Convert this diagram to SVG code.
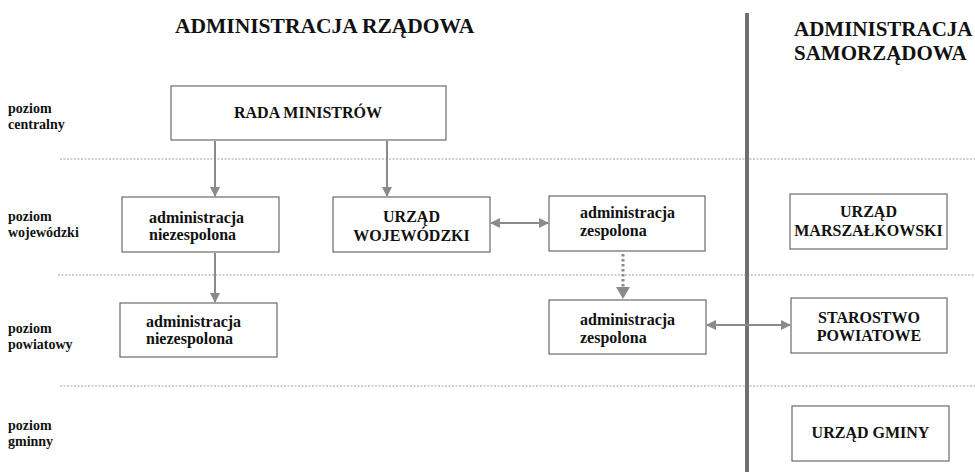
<svg xmlns="http://www.w3.org/2000/svg" width="975" height="472" viewBox="0 0 975 472">
<defs>
<marker id="ah" markerWidth="10" markerHeight="10" refX="9" refY="5" orient="auto-start-reverse" markerUnits="userSpaceOnUse">
<path d="M0,0 L10,5 L0,10 Z" fill="#8a8a8a"/>
</marker>
</defs>
<style>
text{font-family:"Liberation Serif","Times New Roman",serif;font-weight:bold;fill:#111}
.title{font-size:21.5px}
.title2{font-size:21px}
.lvl{font-size:14px}
.n{font-size:16px}
.c{text-anchor:middle}
.box{fill:#fff;stroke:#6a6a6a;stroke-width:1.2}
.dash{stroke:#a0a0a0;stroke-width:1;stroke-dasharray:2,1.5;fill:none}
.arr{stroke:#8a8a8a;stroke-width:2;fill:none}
</style>
<rect width="975" height="472" fill="#fff"/>
<g id="headers">
<text class="title" x="175" y="33">ADMINISTRACJA RZĄDOWA</text>
<text class="title2" x="794" y="36">ADMINISTRACJA</text>
<text class="title2" x="794" y="60">SAMORZĄDOWA</text>
</g>
<g id="levels">
<text class="lvl" x="8" y="113">poziom</text>
<text class="lvl" x="8" y="129">centralny</text>
<text class="lvl" x="8" y="221">poziom</text>
<text class="lvl" x="8" y="237">wojewódzki</text>
<text class="lvl" x="8" y="333">poziom</text>
<text class="lvl" x="8" y="349">powiatowy</text>
<text class="lvl" x="8" y="430">poziom</text>
<text class="lvl" x="8" y="446">gminny</text>
</g>
<g id="separators">
<line class="dash" x1="60" y1="159" x2="975" y2="159"/>
<line class="dash" x1="58" y1="275" x2="975" y2="275"/>
<line class="dash" x1="60" y1="386" x2="975" y2="386"/>
<line x1="747" y1="13" x2="747" y2="472" stroke="#707070" stroke-width="4"/>
</g>
<g id="connectors">
<line class="arr" x1="215" y1="141" x2="215" y2="196" marker-end="url(#ah)"/>
<line class="arr" x1="387" y1="141" x2="387" y2="196" marker-end="url(#ah)"/>
<line class="arr" x1="215" y1="253" x2="215" y2="302" marker-end="url(#ah)"/>
<line class="arr" x1="491" y1="223" x2="548" y2="223" marker-start="url(#ah)" marker-end="url(#ah)"/>
<line class="arr" x1="707" y1="325" x2="790" y2="325" marker-start="url(#ah)" marker-end="url(#ah)"/>
<line x1="623" y1="254" x2="623" y2="287" stroke="#8a8a8a" stroke-width="3" stroke-dasharray="2.5,2.5"/>
<path d="M616,287 L630,287 L623,299 Z" fill="#8a8a8a"/>
</g>
<g id="rada-ministrow">
<rect class="box" x="171" y="86" width="275" height="54"/>
<text class="n c" x="308" y="118">RADA MINISTRÓW</text>
</g>
<g id="adm-niezespolona-woj">
<rect class="box" x="122" y="197" width="157" height="55"/>
<text class="n" x="149" y="223">administracja</text>
<text class="n" x="149" y="240">niezespolona</text>
</g>
<g id="urzad-wojewodzki">
<rect class="box" x="333" y="197" width="157" height="55"/>
<text class="n c" x="411.5" y="222">URZĄD</text>
<text class="n c" x="411.5" y="241">WOJEWÓDZKI</text>
</g>
<g id="adm-zespolona-woj">
<rect class="box" x="549" y="196" width="156" height="55"/>
<text class="n" x="580" y="218">administracja</text>
<text class="n" x="580" y="236">zespolona</text>
</g>
<g id="urzad-marszalkowski">
<rect class="box" x="790" y="194" width="157" height="55"/>
<text class="n c" x="868.5" y="217">URZĄD</text>
<text class="n c" x="868.5" y="236">MARSZAŁKOWSKI</text>
</g>
<g id="adm-niezespolona-pow">
<rect class="box" x="120" y="303" width="157" height="54"/>
<text class="n" x="146" y="327">administracja</text>
<text class="n" x="146" y="344">niezespolona</text>
</g>
<g id="adm-zespolona-pow">
<rect class="box" x="549" y="300" width="157" height="54"/>
<text class="n" x="580" y="325">administracja</text>
<text class="n" x="580" y="343">zespolona</text>
</g>
<g id="starostwo-powiatowe">
<rect class="box" x="791" y="298" width="156" height="55"/>
<text class="n c" x="869" y="323">STAROSTWO</text>
<text class="n c" x="869" y="341">POWIATOWE</text>
</g>
<g id="urzad-gminy">
<rect class="box" x="792" y="406" width="157" height="55"/>
<text class="n c" x="870.5" y="438">URZĄD GMINY</text>
</g>
</svg>
